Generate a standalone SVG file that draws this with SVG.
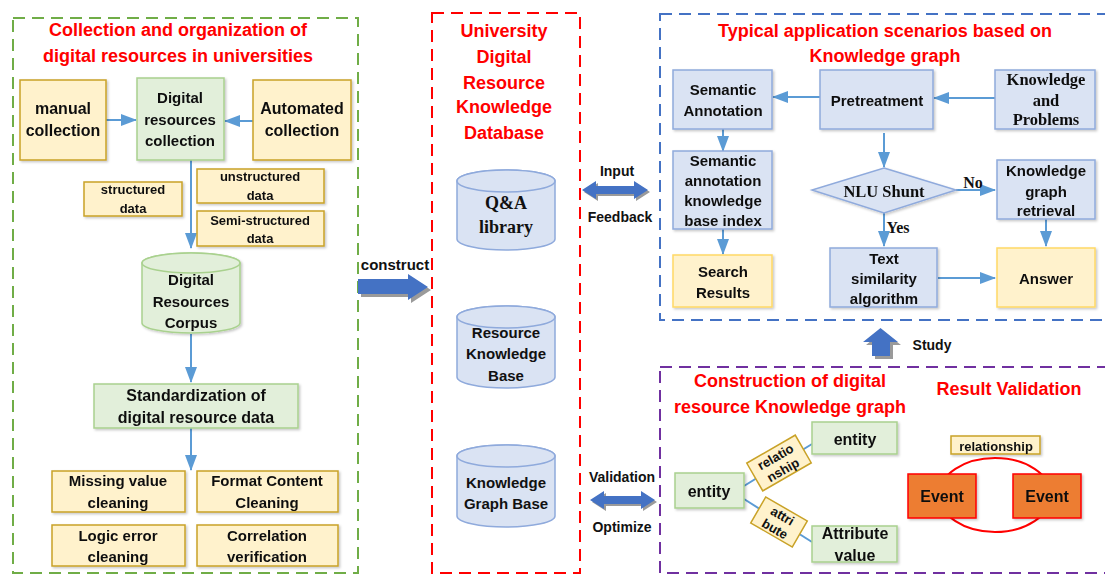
<svg xmlns="http://www.w3.org/2000/svg" width="1105" height="574" viewBox="0 0 1105 574">
  <defs>
    <marker id="ah" viewBox="0 0 16 12" refX="15" refY="6" markerWidth="8" markerHeight="6" orient="auto" markerUnits="strokeWidth">
      <path d="M0,0 L16,6 L0,12 Z" fill="#5b9bd5"/>
    </marker>
    <filter id="sh" x="-10%" y="-10%" width="130%" height="130%">
      <feDropShadow dx="1.5" dy="1.5" stdDeviation="0.8" flood-color="#000" flood-opacity="0.22"/>
    </filter>
  </defs>
  <style>
    text { font-family: "Liberation Sans", Arial, sans-serif; font-weight: bold; fill: #111; text-anchor: middle; dominant-baseline: central; }
    .serif { font-family: "Liberation Serif", "Times New Roman", serif; }
    .title { fill: #ff0000; font-size: 18px; }
    .t15 { font-size: 15px; }
    .t13 { font-size: 13px; }
    .t14 { font-size: 14px; }
    .t16 { font-size: 16px; }
    .yellow { fill: #fff2cc; stroke: #c9a227; stroke-width: 1.5; }
    .yellowB { fill: #fff2cc; stroke: #ffd966; stroke-width: 1.5; }
    .green { fill: #e2efda; stroke: #a9d18e; stroke-width: 1.5; }
    .blue { fill: #dae3f3; stroke: #8faadc; stroke-width: 1.5; }
    .flow { fill: none; stroke: #5b9bd5; stroke-width: 2; marker-end: url(#ah); }
    .link { fill: none; stroke: #5b9bd5; stroke-width: 2; }
    .frame { fill: none; stroke-width: 2; stroke-dasharray: 12 7; }
    .block { fill: #4472c4; }
    .blockSh { fill: #9a9a9a; }
  </style>

  <!-- section frames -->
  <g id="frames">
    <rect class="frame" x="13" y="18" width="345" height="555" stroke="#70ad47"/>
    <rect class="frame" x="432" y="13" width="148" height="560" stroke="#ff0000"/>
    <rect class="frame" x="660" y="14" width="448" height="306" stroke="#4472c4"/>
    <rect class="frame" x="660" y="367" width="448" height="206" stroke="#7030a0"/>
  </g>

  <!-- section titles -->
  <g id="titles">
    <text class="title" x="178" y="30">Collection and organization of</text>
    <text class="title" x="178" y="56">digital resources in universities</text>
    <text class="title" x="504" y="31">University</text>
    <text class="title" x="504" y="57">Digital</text>
    <text class="title" x="504" y="83">Resource</text>
    <text class="title" x="504" y="107">Knowledge</text>
    <text class="title" x="504" y="133">Database</text>
    <text class="title" x="885" y="31">Typical application scenarios based on</text>
    <text class="title" x="885" y="56">Knowledge graph</text>
    <text class="title" x="790" y="381">Construction of digital</text>
    <text class="title" x="790" y="407">resource Knowledge graph</text>
    <text class="title" x="1009" y="389">Result Validation</text>
  </g>

  <!-- connectors -->
  <g id="connectors">
    <line class="flow" x1="106" y1="120" x2="136" y2="120"/>
    <line class="flow" x1="253" y1="121" x2="225" y2="121"/>
    <line class="flow" x1="191" y1="160" x2="191" y2="248"/>
    <line class="flow" x1="191" y1="334" x2="191" y2="382"/>
    <line class="flow" x1="191" y1="428" x2="191" y2="470"/>

    <line class="flow" x1="820" y1="97" x2="773" y2="97"/>
    <line class="flow" x1="995" y1="98" x2="934" y2="98"/>
    <line class="flow" x1="723" y1="129" x2="723" y2="151"/>
    <line class="flow" x1="723" y1="229" x2="723" y2="254"/>
    <line class="flow" x1="884" y1="133" x2="884" y2="167"/>
    <line class="flow" x1="956" y1="190" x2="995" y2="190"/>
    <line class="flow" x1="884" y1="213" x2="884" y2="246"/>
    <line class="flow" x1="1046" y1="219" x2="1046" y2="246"/>
    <line class="flow" x1="938" y1="278" x2="995" y2="278"/>

    <line class="link" x1="744" y1="486" x2="812" y2="444"/>
    <line class="link" x1="744" y1="499" x2="812" y2="542"/>

    <!-- block arrows with shadows -->
    <polygon class="blockSh" points="361,282 411,282 411,277 431,290 411,303 411,297 361,297"/>
    <polygon class="block" points="358,279 408,279 408,274 428,287 408,300 408,294 358,294"/>

    <polygon class="blockSh" points="584,192 598,183 598,188 636,188 636,183 650,192 636,201 636,196 598,196 598,201"/>
    <polygon class="block" points="582,190 596,181 596,186 634,186 634,181 648,190 634,199 634,194 596,194 596,199"/>

    <polygon class="blockSh" points="592,502 606,493 606,498 643,498 643,493 657,502 643,511 643,506 606,506 606,511"/>
    <polygon class="block" points="590,500 604,491 604,496 641,496 641,491 655,500 641,509 641,504 604,504 604,509"/>

    <polygon class="blockSh" points="883,331 901,345 893,345 893,359 875,359 875,345 866,345"/>
    <polygon class="block" points="880.5,328 898,342 890,342 890,356 872,356 872,342 863,342"/>

    <text class="t15" x="395" y="264">construct</text>
    <text class="t14" x="617" y="171">Input</text>
    <text class="t14" x="620" y="217">Feedback</text>
    <text class="t14" x="622" y="477">Validation</text>
    <text class="t14" x="622" y="527">Optimize</text>
    <text class="t14" x="932" y="345">Study</text>
    <text class="serif t16" x="973" y="182">No</text>
    <text class="serif t16" x="898" y="227">Yes</text>
  </g>

  <!-- collection section -->
  <g id="manual-collection" filter="url(#sh)">
    <rect class="yellow" x="20" y="80" width="86" height="80"/>
    <text class="t16" x="63" y="108">manual</text>
    <text class="t16" x="63" y="130">collection</text>
  </g>
  <g id="digital-resources-collection" filter="url(#sh)">
    <rect class="green" x="137" y="78" width="87" height="82"/>
    <text class="t15" x="180" y="97">Digital</text>
    <text class="t15" x="180" y="119">resources</text>
    <text class="t15" x="180" y="140">collection</text>
  </g>
  <g id="automated-collection" filter="url(#sh)">
    <rect class="yellow" x="253" y="80" width="98" height="80"/>
    <text class="t16" x="302" y="108">Automated</text>
    <text class="t16" x="302" y="130">collection</text>
  </g>
  <g id="structured-data" filter="url(#sh)">
    <rect class="yellow" x="84" y="182" width="98" height="34"/>
    <text class="t13" x="133" y="189">structured</text>
    <text class="t13" x="133" y="208">data</text>
  </g>
  <g id="unstructured-data" filter="url(#sh)">
    <rect class="yellow" x="197" y="169" width="127" height="34"/>
    <text class="t13" x="260" y="176">unstructured</text>
    <text class="t13" x="260" y="195">data</text>
  </g>
  <g id="semi-structured-data" filter="url(#sh)">
    <rect class="yellow" x="197" y="211" width="127" height="35"/>
    <text class="t13" x="260" y="220">Semi-structured</text>
    <text class="t13" x="260" y="238">data</text>
  </g>
  <g id="digital-resources-corpus" filter="url(#sh)">
    <path class="green" d="M142,263 A49,10 0 0 1 240,263 V323 A49,10 0 0 1 142,323 Z"/>
    <ellipse class="green" cx="191" cy="263" rx="49" ry="10"/>
    <text class="t15" x="191" y="279">Digital</text>
    <text class="t15" x="191" y="301">Resources</text>
    <text class="t15" x="191" y="322">Corpus</text>
  </g>
  <g id="standardization" filter="url(#sh)">
    <rect class="green" x="94" y="384" width="204" height="44"/>
    <text class="t16" x="196" y="395">Standardization of</text>
    <text class="t16" x="196" y="417">digital resource data</text>
  </g>
  <g id="missing-value-cleaning" filter="url(#sh)">
    <rect class="yellow" x="52" y="471" width="133" height="41"/>
    <text class="t15" x="118" y="480">Missing value</text>
    <text class="t15" x="118" y="502">cleaning</text>
  </g>
  <g id="format-content-cleaning" filter="url(#sh)">
    <rect class="yellow" x="197" y="471" width="141" height="41"/>
    <text class="t15" x="267" y="480">Format Content</text>
    <text class="t15" x="267" y="502">Cleaning</text>
  </g>
  <g id="logic-error-cleaning" filter="url(#sh)">
    <rect class="yellow" x="52" y="525" width="133" height="41"/>
    <text class="t15" x="118" y="535">Logic error</text>
    <text class="t15" x="118" y="556">cleaning</text>
  </g>
  <g id="correlation-verification" filter="url(#sh)">
    <rect class="yellow" x="197" y="525" width="141" height="41"/>
    <text class="t15" x="267" y="535">Correlation</text>
    <text class="t15" x="267" y="556">verification</text>
  </g>

  <!-- knowledge database -->
  <g id="qa-library">
    <path class="blue" d="M457,181 A49,11 0 0 1 555,181 V239 A49,11 0 0 1 457,239 Z"/>
    <ellipse class="blue" cx="506" cy="181" rx="49" ry="11"/>
    <text class="serif" x="506" y="203" style="font-size:18px">Q&amp;A</text>
    <text class="serif" x="506" y="227" style="font-size:18px">library</text>
  </g>
  <g id="resource-knowledge-base">
    <path class="blue" d="M457,317 A49,11 0 0 1 555,317 V377 A49,11 0 0 1 457,377 Z"/>
    <ellipse class="blue" cx="506" cy="317" rx="49" ry="11"/>
    <text class="t15" x="506" y="332">Resource</text>
    <text class="t15" x="506" y="353">Knowledge</text>
    <text class="t15" x="506" y="375">Base</text>
  </g>
  <g id="knowledge-graph-base">
    <path class="blue" d="M457,456 A49,11 0 0 1 555,456 V516 A49,11 0 0 1 457,516 Z"/>
    <ellipse class="blue" cx="506" cy="456" rx="49" ry="11"/>
    <text class="t15" x="506" y="482">Knowledge</text>
    <text class="t15" x="506" y="503">Graph Base</text>
  </g>

  <!-- application scenarios -->
  <g id="semantic-annotation" filter="url(#sh)">
    <rect class="blue" x="673" y="70" width="99" height="59"/>
    <text class="t15" x="723" y="89">Semantic</text>
    <text class="t15" x="723" y="110">Annotation</text>
  </g>
  <g id="pretreatment" filter="url(#sh)">
    <rect class="blue" x="820" y="70" width="113" height="59"/>
    <text class="t15" x="877" y="100">Pretreatment</text>
  </g>
  <g id="knowledge-and-problems" filter="url(#sh)">
    <rect class="blue" x="995" y="70" width="100" height="59"/>
    <text class="serif" x="1046" y="79" style="font-size:16.5px">Knowledge</text>
    <text class="serif" x="1046" y="100" style="font-size:16.5px">and</text>
    <text class="serif" x="1046" y="119" style="font-size:16.5px">Problems</text>
  </g>
  <g id="semantic-index" filter="url(#sh)">
    <rect class="blue" x="673" y="151" width="99" height="78"/>
    <text class="t15" x="723" y="160">Semantic</text>
    <text class="t15" x="723" y="180">annotation</text>
    <text class="t15" x="723" y="200">knowledge</text>
    <text class="t15" x="723" y="220">base index</text>
  </g>
  <g id="search-results" filter="url(#sh)">
    <rect class="yellowB" x="673" y="255" width="99" height="52"/>
    <text class="t15" x="723" y="271">Search</text>
    <text class="t15" x="723" y="292">Results</text>
  </g>
  <g id="nlu-shunt" filter="url(#sh)">
    <polygon class="blue" points="884,168 956,190 884,213 812,190"/>
    <text class="serif" x="884" y="191" style="font-size:16.5px">NLU Shunt</text>
  </g>
  <g id="knowledge-graph-retrieval" filter="url(#sh)">
    <rect class="blue" x="997" y="160" width="98" height="59"/>
    <text class="t15" x="1046" y="170">Knowledge</text>
    <text class="t15" x="1046" y="191">graph</text>
    <text class="t15" x="1046" y="210">retrieval</text>
  </g>
  <g id="text-similarity" filter="url(#sh)">
    <rect class="blue" x="830" y="248" width="107" height="59"/>
    <text class="t15" x="884" y="258">Text</text>
    <text class="t15" x="884" y="278">similarity</text>
    <text class="t15" x="884" y="298">algorithm</text>
  </g>
  <g id="answer" filter="url(#sh)">
    <rect class="yellowB" x="997" y="248" width="98" height="59"/>
    <text class="t15" x="1046" y="278">Answer</text>
  </g>

  <!-- knowledge graph construction -->
  <g id="entity-target" filter="url(#sh)">
    <rect class="green" x="812" y="422" width="85" height="32"/>
    <text class="t16" x="855" y="439">entity</text>
  </g>
  <g id="entity-source" filter="url(#sh)">
    <rect class="green" x="675" y="473" width="69" height="35"/>
    <text class="t16" x="709" y="491">entity</text>
  </g>
  <g id="attribute-value" filter="url(#sh)">
    <rect class="green" x="812" y="526" width="85" height="36"/>
    <text class="t16" x="855" y="533">Attribute</text>
    <text class="t16" x="855" y="555">value</text>
  </g>
  <g id="relationship-tag" transform="translate(779,463) rotate(-30)">
    <rect class="yellow" x="-28" y="-16" width="56" height="32"/>
    <text class="t13" x="0" y="-7">relatio</text>
    <text class="t13" x="0" y="8">nship</text>
  </g>
  <g id="attribute-tag" transform="translate(779,522) rotate(30)">
    <rect class="yellow" x="-24" y="-15" width="48" height="30"/>
    <text class="t13" x="0" y="-7">attri</text>
    <text class="t13" x="0" y="8">bute</text>
  </g>

  <!-- result validation -->
  <g id="result-validation">
    <ellipse cx="995" cy="495" rx="56" ry="37" fill="none" stroke="#ff0000" stroke-width="2"/>
    <g id="event-left" filter="url(#sh)">
      <rect x="908" y="474" width="68" height="44" fill="#ed7d31" stroke="#ff0000" stroke-width="1.5"/>
      <text class="t16" x="942" y="496">Event</text>
    </g>
    <g id="event-right" filter="url(#sh)">
      <rect x="1013" y="474" width="68" height="44" fill="#ed7d31" stroke="#ff0000" stroke-width="1.5"/>
      <text class="t16" x="1047" y="496">Event</text>
    </g>
    <g id="relationship-label" filter="url(#sh)">
      <rect class="yellow" x="951" y="436" width="89" height="18"/>
      <text class="t13" x="996" y="446">relationship</text>
    </g>
  </g>
</svg>
